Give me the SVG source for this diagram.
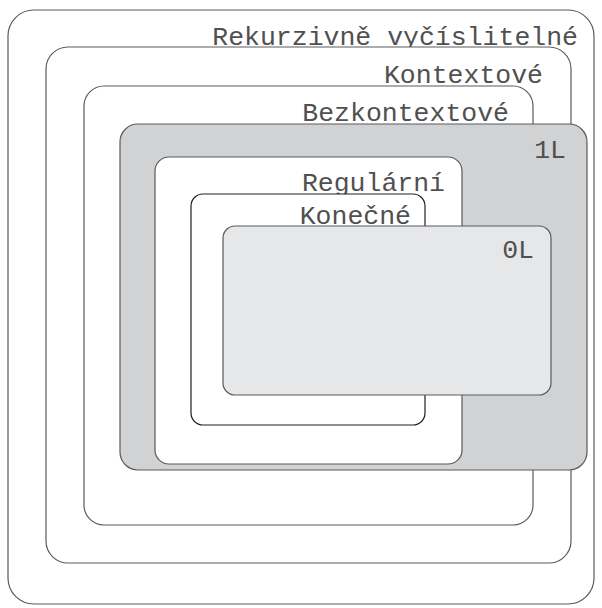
<svg xmlns="http://www.w3.org/2000/svg" width="602" height="608" viewBox="0 0 602 608">
<style>
.box{fill:#ffffff;stroke:#5a5a5a;stroke-width:1.2}
.lbl{font-family:"Liberation Mono","DejaVu Sans Mono",monospace;font-size:26.5px;fill:#505050;text-anchor:end}
</style>
<rect width="602" height="608" fill="#ffffff"/>
<g id="rekurzivne">
<rect class="box" x="8" y="10" width="586" height="594" rx="26"/>
<text class="lbl" x="578" y="45">Rekurzivně vyčíslitelné</text>
</g>
<g id="kontextove">
<rect class="box" x="46" y="47" width="525" height="516" rx="22"/>
<text class="lbl" x="543" y="83">Kontextové</text>
</g>
<g id="bezkontextove">
<rect class="box" x="84" y="86" width="449" height="439" rx="20"/>
<text class="lbl" x="509" y="121">Bezkontextové</text>
</g>
<g id="l1">
<rect class="box" x="120" y="124" width="467" height="346" rx="18" style="fill:#d1d2d4"/>
<text class="lbl" x="566" y="158">1L</text>
</g>
<g id="regularni">
<rect class="box" x="155" y="157" width="307" height="307" rx="14"/>
<text class="lbl" x="445" y="191">Regulární</text>
</g>
<g id="konecne">
<rect class="box" x="191" y="194" width="234" height="231" rx="12" style="stroke:#231f20"/>
<text class="lbl" x="411" y="224">Konečné</text>
</g>
<g id="l0">
<rect class="box" x="223" y="226" width="328" height="169" rx="12" style="fill:#e6e7e8"/>
<text class="lbl" x="534" y="258">0L</text>
</g>
<g id="connectors"></g>
</svg>
